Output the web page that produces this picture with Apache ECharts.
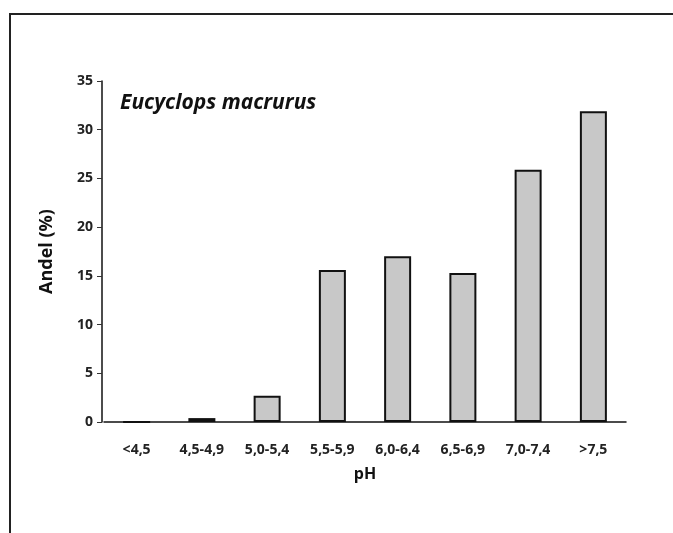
<!DOCTYPE html>
<html>
<head>
<meta charset="utf-8">
<script src="https://cdn.jsdelivr.net/npm/echarts@6/dist/echarts.min.js"></script>
<style>html,body{margin:0;padding:0;background:#fff;}#c{width:673px;height:533px;}</style>
</head>
<body>
<div id="c"></div>
<script>
const categories = ['<4,5', '4,5-4,9', '5,0-5,4', '5,5-5,9', '6,0-6,4', '6,5-6,9', '7,0-7,4', '>7,5'];
const andel = [0, 0.4, 2.7, 15.6, 17.0, 15.3, 25.9, 31.9];
const yTicks = [0, 5, 10, 15, 20, 25, 30, 35];
const titleText = 'Eucyclops macrurus';
const xName = 'pH';
const yName = 'Andel (%)';

const chart = echarts.init(document.getElementById('c'), null, {renderer: 'canvas'});
const font = '"Open Sans", "DejaVu Sans", sans-serif';
chart.setOption({
  animation: false,
  backgroundColor: '#fff',
  title: {
    text: titleText,
    left: 115, top: 88,
    textStyle: {fontFamily: font, fontSize: 21, fontWeight: 'bold', fontStyle: 'italic', color: '#111'}
  },
  grid: {left: 104, right: 47, top: 81, bottom: 111, containLabel: false},
  xAxis: {
    type: 'category',
    data: categories,
    name: xName,
    nameLocation: 'middle',
    nameGap: 44,
    nameTextStyle: {fontFamily: font, fontSize: 16, fontWeight: 'bold', color: '#111'},
    axisLine: {lineStyle: {color: '#111', width: 1.5}},
    axisTick: {show: false},
    axisLabel: {fontFamily: font, fontSize: 14, fontWeight: 'bold', color: '#222', margin: 21, interval: 0}
  },
  yAxis: {
    type: 'value',
    min: yTicks[0], max: yTicks[yTicks.length - 1], interval: 5,
    offset: 2,
    name: yName,
    nameLocation: 'middle',
    nameGap: 46,
    nameRotate: 90,
    nameTextStyle: {fontFamily: font, fontSize: 18, fontWeight: 'bold', color: '#111'},
    axisLine: {show: true, lineStyle: {color: '#111', width: 1.5}},
    axisTick: {show: true, inside: false, length: 5, lineStyle: {color: '#333', width: 1}},
    axisLabel: {fontFamily: font, fontSize: 14, fontWeight: 'bold', color: '#222', margin: 9},
    splitLine: {show: false}
  },
  graphic: [
    {type: 'line', shape: {x1: 9, y1: 14, x2: 673, y2: 14}, style: {stroke: '#222', lineWidth: 2}},
    {type: 'line', shape: {x1: 10, y1: 13, x2: 10, y2: 533}, style: {stroke: '#222', lineWidth: 2}}
  ],
  series: [{
    type: 'bar',
    data: andel,
    barWidth: 27,
    itemStyle: {color: '#c8c8c8', borderColor: '#111', borderWidth: 2}
  }]
});
</script>
</body>
</html>
